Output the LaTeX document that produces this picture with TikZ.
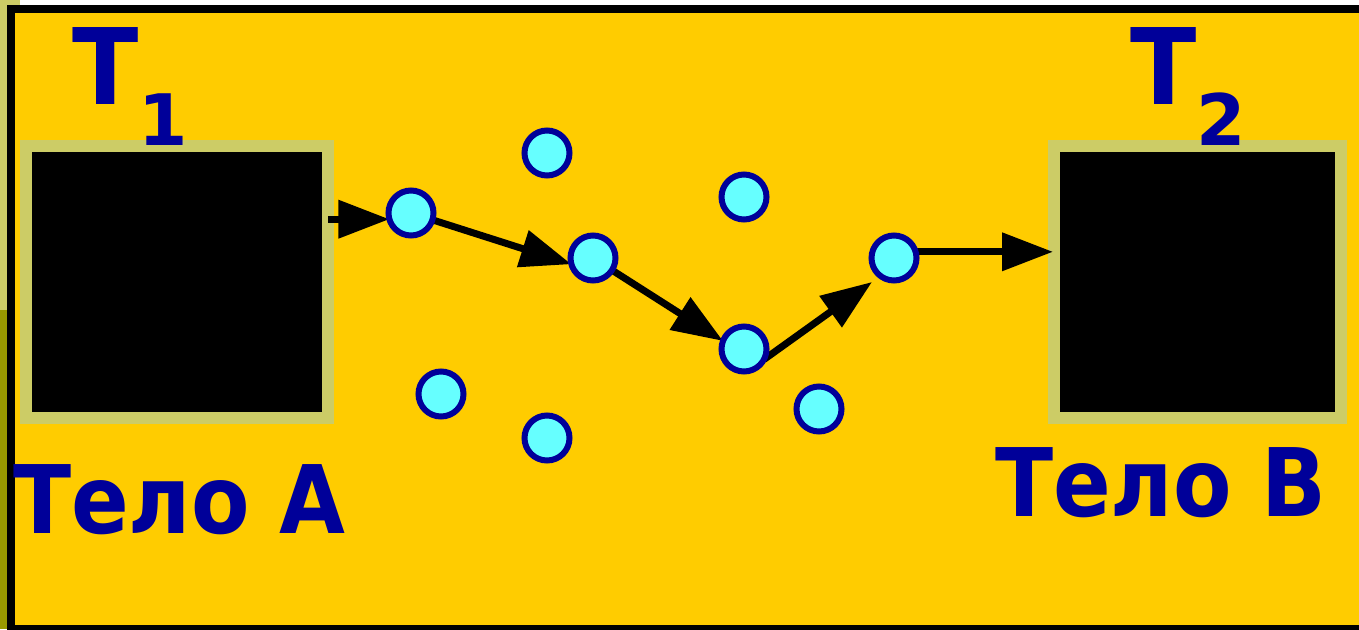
\documentclass[tikz,border=0pt]{standalone}
\usepackage{fontspec}
\newfontfamily\labfont{DejaVu Sans}
\usetikzlibrary{arrows.meta}
\pgfdeclarelayer{back}
\pgfdeclarelayer{mid}
\pgfsetlayers{back,mid,main}
\definecolor{bgyellow}{HTML}{FFCC00}
\definecolor{oliveL}{HTML}{CCCC66}
\definecolor{oliveD}{HTML}{999900}
\definecolor{navy}{HTML}{000099}
\definecolor{cyanball}{HTML}{66FFFF}
\tikzset{
  ball/.style={circle, draw=navy, fill=cyanball, line width=6pt, minimum size=45pt, inner sep=0pt, outer sep=0pt},
  body/.style={rectangle, draw=oliveL, fill=black, line width=12pt, inner sep=0pt, outer sep=0pt},
  flow/.style={line width=7pt, -{Triangle[length=51pt,width=37pt]}},
  lab/.style={text=navy, inner sep=0pt, outer sep=0pt, anchor=base west, font=\labfont\bfseries}
}
\begin{document}
\begin{tikzpicture}[x=1pt,y=-1pt]
\useasboundingbox (0,0) rectangle (1359,629);
\clip (0,0) rectangle (1359,629);
\begin{pgfonlayer}{back}
% background and frame
\fill[white] (0,0) rectangle (1359,629);
\fill[oliveL] (0,0) rectangle (20,5);
\fill[oliveL] (0,0) rectangle (7,310);
\fill[oliveD] (0,310) rectangle (7,629);
\fill[black] (7,5) rectangle (1380,640);
\fill[bgyellow] (15,13) rectangle (1380,625);
% bodies
\node[body, minimum width=302pt, minimum height=272pt] (bodyA) at (177,282) {};
\node[body, minimum width=287pt, minimum height=272pt] (bodyB) at (1197.5,282) {};
\end{pgfonlayer}
% particles
\node[ball] (c1) at (411,213) {};
\node[ball] (c2) at (547,153) {};
\node[ball] (c3) at (593,258) {};
\node[ball] (c4) at (744,197) {};
\node[ball] (c5) at (744,349) {};
\node[ball] (c6) at (894,258) {};
\node[ball] (c7) at (441,394) {};
\node[ball] (c8) at (547,438) {};
\node[ball] (c9) at (819,409) {};
\coordinate (t4) at (872,282);
% arrows (under the particles, over the bodies)
\begin{pgfonlayer}{mid}
\draw[flow] (bodyA.east |- c1.196) -- (c1.196);
\draw[flow] (c1.center) -- (c3.196);
\draw[flow] (c3.center) -- (c5.159);
\draw[flow] (c5.-28) -- (t4);
\draw[flow] (c6.16) -- ([xshift=-1pt]bodyB.west |- c6.16);
\end{pgfonlayer}
% labels
\node[lab] (T1) at (72,104) {\fontsize{105.6}{105.6}\selectfont\scalebox{0.92}[1]{T}\raisebox{-41pt}{\fontsize{71}{71}\selectfont 1}};
\node[lab] (T2) at (1130,104) {\fontsize{105.6}{105.6}\selectfont\scalebox{0.92}[1]{T}\raisebox{-41pt}{\fontsize{71}{71}\selectfont 2}};
\node[lab] (nameA) at (13,533) {\fontsize{94.6}{94.6}\selectfont\scalebox{0.9}[1]{Тело А}};
\node[lab] (nameB) at (995,516) {\fontsize{94.6}{94.6}\selectfont\scalebox{0.9}[1]{Тело В}};
\end{tikzpicture}
\end{document}
